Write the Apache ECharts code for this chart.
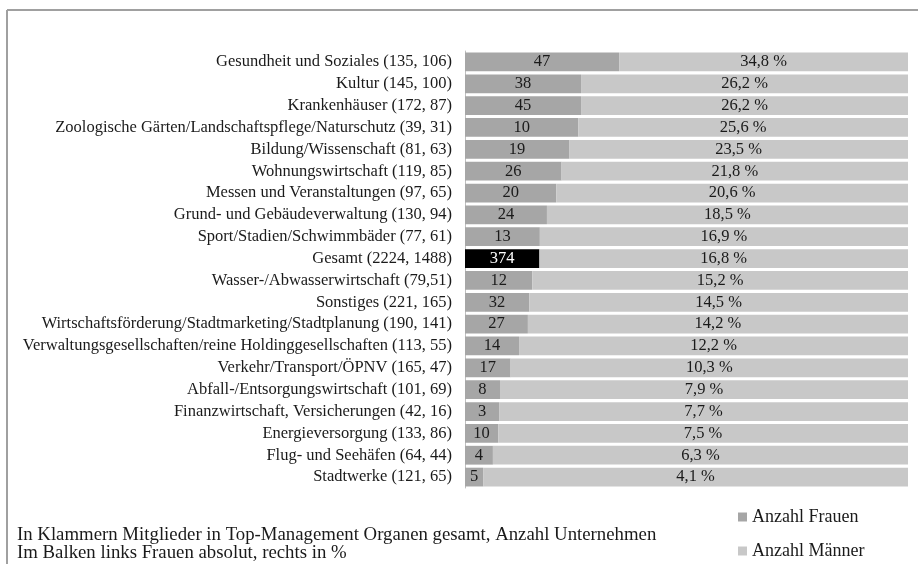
<!DOCTYPE html>
<html><head><meta charset="utf-8">
<script src="https://cdn.jsdelivr.net/npm/echarts@6/dist/echarts.min.js"></script>
<style>html,body{margin:0;padding:0;background:#fff}#c{width:918px;height:564px}</style>
</head><body><div id="c"></div>
<script>
const categories = [
  "Gesundheit und Soziales (135, 106)",
  "Kultur (145, 100)",
  "Krankenhäuser (172, 87)",
  "Zoologische Gärten/Landschaftspflege/Naturschutz (39, 31)",
  "Bildung/Wissenschaft (81, 63)",
  "Wohnungswirtschaft (119, 85)",
  "Messen und Veranstaltungen (97, 65)",
  "Grund- und Gebäudeverwaltung (130, 94)",
  "Sport/Stadien/Schwimmbäder (77, 61)",
  "Gesamt (2224, 1488)",
  "Wasser-/Abwasserwirtschaft (79,51)",
  "Sonstiges (221, 165)",
  "Wirtschaftsförderung/Stadtmarketing/Stadtplanung (190, 141)",
  "Verwaltungsgesellschaften/reine Holdinggesellschaften (113, 55)",
  "Verkehr/Transport/ÖPNV (165, 47)",
  "Abfall-/Entsorgungswirtschaft (101, 69)",
  "Finanzwirtschaft, Versicherungen (42, 16)",
  "Energieversorgung (133, 86)",
  "Flug- und Seehäfen (64, 44)",
  "Stadtwerke (121, 65)"
];
const womenCount = [47, 38, 45, 10, 19, 26, 20, 24, 13, 374, 12, 32, 27, 14, 17, 8, 3, 10, 4, 5];
const womenPct = [34.8, 26.2, 26.2, 25.6, 23.5, 21.8, 20.6, 18.5, 16.9, 16.8, 15.2, 14.5, 14.2, 12.2, 10.3, 7.9, 7.7, 7.5, 6.3, 4.1];
const menPct = womenPct.map(p => Math.round((100 - p) * 10) / 10);
const highlightCategory = "Gesamt (2224, 1488)";
const footnotes = [
  "In Klammern Mitglieder in Top-Management Organen gesamt, Anzahl Unternehmen",
  "Im Balken links Frauen absolut, rechts in %"
];

const FONT = "'Liberation Serif', 'Times New Roman', serif";
const chart = echarts.init(document.getElementById('c'));
const womenData = womenPct.map((p, i) => {
  const hl = categories[i] === highlightCategory;
  return {
    value: p,
    itemStyle: { color: hl ? '#000000' : '#a6a6a6' },
    label: { color: hl ? '#ffffff' : '#1a1a1a' }
  };
});
chart.setOption({
  animation: false,
  grid: { left: 465, right: 10, top: 51, height: 437, containLabel: false },
  xAxis: { type: 'value', min: 0, max: 100, show: false },
  yAxis: {
    type: 'category', inverse: true, data: categories,
    axisLine: { show: true, lineStyle: { color: '#bfbfbf', width: 1 } },
    axisTick: { show: false },
    axisLabel: { interval: 0, hideOverlap: false, margin: 13, fontFamily: FONT, fontSize: 16.5, color: '#1a1a1a' }
  },
  legend: {
    orient: 'vertical', left: 738, top: 507, itemGap: 14, padding: 0,
    itemWidth: 9, itemHeight: 9, icon: 'rect',
    textStyle: { fontFamily: FONT, fontSize: 18, color: '#1a1a1a', lineHeight: 20, padding: [0, 0, 0, 0] },
    data: [
      { name: 'Anzahl Frauen', itemStyle: { color: '#a6a6a6' } },
      { name: 'Anzahl Männer', itemStyle: { color: '#c8c8c8' } }
    ]
  },
  series: [
    {
      name: 'Anzahl Frauen', type: 'bar', stack: 's', barCategoryGap: '14%',
      data: womenData,
      itemStyle: { color: '#a6a6a6' },
      label: {
        show: true, position: 'inside', fontFamily: FONT, fontSize: 16.5,
        formatter: p => String(womenCount[p.dataIndex])
      }
    },
    {
      name: 'Anzahl Männer', type: 'bar', stack: 's',
      data: menPct,
      itemStyle: { color: '#c8c8c8' },
      label: {
        show: true, position: 'inside', fontFamily: FONT, fontSize: 16.5, color: '#1a1a1a',
        formatter: p => womenPct[p.dataIndex].toFixed(1).replace('.', ',') + ' %'
      }
    }
  ],
  graphic: [
    { type: 'line', shape: { x1: 7, y1: 10, x2: 918, y2: 10 }, style: { stroke: '#a0a0a0', lineWidth: 2 } },
    { type: 'line', shape: { x1: 7, y1: 10, x2: 7, y2: 564 }, style: { stroke: '#a0a0a0', lineWidth: 2 } },
    { type: 'text', x: 17, y: 535, style: { text: footnotes[0], font: "18.8px " + FONT, fill: '#1a1a1a', textVerticalAlign: 'middle', verticalAlign: 'middle' } },
    { type: 'text', x: 17, y: 553, style: { text: footnotes[1], font: "18.8px " + FONT, fill: '#1a1a1a', textVerticalAlign: 'middle', verticalAlign: 'middle' } }
  ]
});
</script></body></html>
